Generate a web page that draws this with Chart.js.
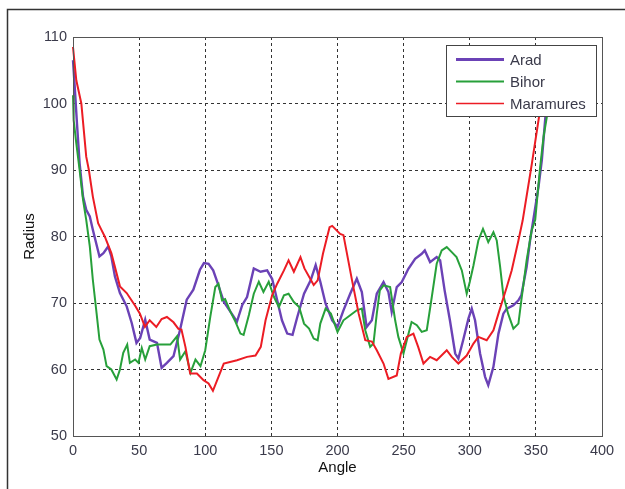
<!DOCTYPE html>
<html><head><meta charset="utf-8">
<script src="https://cdn.jsdelivr.net/npm/chart.js@4"></script>
<style>html,body{margin:0;padding:0;background:#fff}canvas{display:block}</style>
</head><body>
<canvas id="c" width="625" height="489"></canvas>
<script>
const seriesNames = ['Arad', 'Bihor', 'Maramures'];
const xTicks = [0, 50, 100, 150, 200, 250, 300, 350, 400];
const yTicks = [50, 60, 70, 80, 90, 100, 110];

const aradAngle = [0,1.3,3,5,7.6,10,12.7,15,20,23,26.6,29,31.7,35.5,40.6,44.4,48,50.8,54.6,58,63.5,67,71,76,81,86,91,96,99,102.5,106,109,114,119,124,128,131.6,136.7,141.8,146.8,150.6,154.4,158,162,166,169.6,174.7,179.7,183.5,187,191,196,200,204.5,209.6,214.6,218.4,222,226,229.7,234.8,238.5,241,244.8,248.6,253.6,258.7,263.7,266,270,275,277.6,281,285,289,291.4,295,299,301.5,304,307.8,311.6,314,317.9,321.7,325.4,328,333,336.8,339,343,345.6,348,352,354.5,357,360];
const aradRadius = [106.5,102.5,97,91,86,84,83,81,77,77.5,78.5,77,74,71.5,69.5,67,64,64.75,67.5,64.5,64,60.25,61,62,66,70.5,72,75,76,75.9,74.9,73.2,70.2,68.7,67.2,69.7,70.9,75.2,74.7,74.9,73.6,70.4,67.4,65.4,65.2,67.9,71.4,73.4,75.7,73.2,69.9,67.4,66.4,68.9,71.4,73.65,71.65,66.4,67.4,71.4,73.15,71.65,68.65,72.4,73.15,75.15,76.65,77.4,77.9,76.15,76.9,76.4,71.9,67.4,62.4,61.65,64.4,67.65,69.15,67.4,62.4,58.9,57.65,60.4,65.4,68.4,69.15,69.65,70.4,71.15,75.4,79.4,82.4,87.5,91.5,97.5,104];

const bihorAngle = [0,0.5,2.5,5,7.6,10,12.7,15,17.8,20,23,25.4,29,33,35.5,38,41,43,47,49.5,52,54.6,58,63.5,68.5,73.6,78.7,81,85,88.8,92.6,96.4,100,103.8,107.6,110,112.7,115,119,122.8,126.6,129,133,136.7,140.5,144,148,152,155.7,159.5,163,167,171,174.7,178.5,182,185,187,191,195,200,204.5,209.6,214.6,218.4,221,224.7,227.2,229.7,232,234.8,239.8,243.6,246,249.9,252.4,256,260,263.7,267.5,271.3,275,278.8,282.6,286.4,290,294,297.7,300,302.8,306.5,310,314,317.9,320.4,323,325.4,329,333,336.8,339,343,346.8,349.5,353,355.8,358.3,360];
const bihorRadius = [101.25,97.5,94,90,85.5,82.5,78.5,73.5,68.5,64.5,63,60.5,60,58.5,60,62.5,63.75,61,61.5,61,63.25,61.5,63.5,63.75,63.75,63.75,65,61.5,62.75,59.5,61.5,60.5,62.9,67.9,72.4,72.9,70.4,70.6,68.7,67.2,65.4,65.2,68.2,71.4,73.2,71.65,73.2,70.9,69.4,71.15,71.4,70.15,69.4,66.9,66.15,64.65,64.4,66.9,69.15,68.4,65.65,67.4,68.15,68.9,69.15,65.9,63.4,63.9,68.4,71.9,72.65,72.4,67.4,64.9,62.4,64.4,67.15,66.65,65.65,65.9,70.9,75.9,77.9,78.4,77.65,76.9,74.9,71.4,73.15,75.65,79.4,81.15,79.15,80.65,79.4,75.4,71.15,68.4,66.15,66.9,70.4,76.4,80.9,82.5,90,95,98,101];

const maraAngle = [0,2.5,6.3,10,12,15,19,21.5,24,29,35.5,40.6,47,50.6,54.4,58,63,67,71,76,79.7,82,85,88.6,93.7,98.7,102.5,105.8,114,124,131.6,138,142,145.6,150.6,154.4,159.5,163,167,172,175,182,185,189,194,196,202,204.5,211,216,221,226,229.7,234.8,238.5,244.8,247.9,252.4,257.4,261,265,270,275,282.6,286.4,291.4,297.7,302.8,306.5,312.8,317.9,321.7,328,331.7,336.8,340,347,352,354,357,360];
const maraRadius = [108.5,103.5,100,92,90,86,82,81,80,77.5,72.5,71.5,69.6,68.4,66.4,67.4,66.4,67.6,67.9,67.1,66.1,66,63.4,59.4,59.4,58.4,57.9,56.8,60.9,61.4,61.9,62.1,63.4,67.4,71.2,72.9,74.9,76.4,74.7,76.9,75.2,72.7,73.4,77.4,81.4,81.6,80.4,80.2,73.4,68.4,64.4,64.2,62.9,60.9,58.6,59.1,62.4,64.9,65.4,63.4,60.9,61.9,61.4,62.9,61.9,60.9,62.1,63.9,64.9,64.4,65.9,68.4,72.4,74.9,79.4,82.4,91,97.5,100,105,108];

const colors = ['#6b42b6', '#27a03a', '#ec1c24'];
const widths = [2.4, 2, 2];
const legendWidths = [3, 2, 1.6];

function pts(a, r) { return a.map((v, i) => ({x: v, y: r[i]})); }

const FONT = 'Arial, "Liberation Sans", sans-serif';

const decor = {
  id: 'decor',
  beforeDraw(chart) {
    const ctx = chart.ctx;
    ctx.save();
    ctx.strokeStyle = '#333';
    ctx.lineWidth = 1.5;
    ctx.beginPath();
    ctx.moveTo(7.5, 489); ctx.lineTo(7.5, 9.5); ctx.lineTo(625, 9.5);
    ctx.stroke();
    ctx.restore();
  },
  afterDatasetsDraw(chart) {
    const ctx = chart.ctx, a = chart.chartArea;
    ctx.save();
    // plot box
    ctx.strokeStyle = '#555';
    ctx.lineWidth = 1;
    ctx.strokeRect(Math.round(a.left) + 0.5, Math.round(a.top) + 0.5, Math.round(a.right - a.left), Math.round(a.bottom - a.top));
    // legend
    const lx = 446.5, ly = 45.5, lw = 150, lh = 71;
    ctx.fillStyle = '#fff';
    ctx.fillRect(lx, ly, lw, lh);
    ctx.strokeStyle = '#444';
    ctx.strokeRect(lx, ly, lw, lh);
    ctx.font = '15px ' + FONT;
    ctx.textBaseline = 'middle';
    ctx.textAlign = 'left';
    seriesNames.forEach((n, i) => {
      const y = 59.5 + i * 22;
      ctx.strokeStyle = colors[i];
      ctx.lineWidth = legendWidths[i];
      ctx.beginPath(); ctx.moveTo(456, y); ctx.lineTo(504, y); ctx.stroke();
      ctx.fillStyle = '#3a3a4a';
      ctx.fillText(n, 510, y + 1);
    });
    ctx.restore();
  }
};

new Chart(document.getElementById('c'), {
  type: 'line',
  data: {
    datasets: [
      {label: seriesNames[0], data: pts(aradAngle, aradRadius), borderColor: colors[0], borderWidth: widths[0], order: 3},
      {label: seriesNames[1], data: pts(bihorAngle, bihorRadius), borderColor: colors[1], borderWidth: widths[1], order: 2},
      {label: seriesNames[2], data: pts(maraAngle, maraRadius), borderColor: colors[2], borderWidth: widths[2], order: 1}
    ].map(d => Object.assign(d, {pointRadius: 0, tension: 0, fill: false, clip: 2}))
  },
  options: {
    responsive: false,
    animation: false,
    events: [],
    layout: {padding: {top: 37, right: 23, left: 0, bottom: 0}},
    plugins: {legend: {display: false}, tooltip: {enabled: false}},
    scales: {
      x: {
        type: 'linear', min: 0, max: 400,
        afterBuildTicks: s => { s.ticks = xTicks.map(v => ({value: v})); },
        afterFit: s => { s.height = 53; },
        grid: {color: '#333', lineWidth: 1, drawTicks: false},
        border: {display: false, dash: [3, 3]},
        ticks: {padding: 6, color: '#3a3a4a', font: {family: FONT, size: 14.5}, maxRotation: 0},
        title: {display: true, text: 'Angle', color: '#111', font: {family: FONT, size: 15}, padding: {top: 0, bottom: 12}}
      },
      y: {
        type: 'linear', min: 50, max: 110,
        afterBuildTicks: s => { s.ticks = yTicks.map(v => ({value: v})); },
        afterFit: s => { s.width = 73; },
        grid: {color: '#333', lineWidth: 1, drawTicks: false},
        border: {display: false, dash: [3, 3]},
        ticks: {padding: 6, color: '#3a3a4a', font: {family: FONT, size: 14.5}},
        title: {display: true, text: 'Radius', color: '#111', font: {family: FONT, size: 15}, padding: {top: 21, bottom: 0}}
      }
    }
  },
  plugins: [decor]
});
</script>
</body></html>
